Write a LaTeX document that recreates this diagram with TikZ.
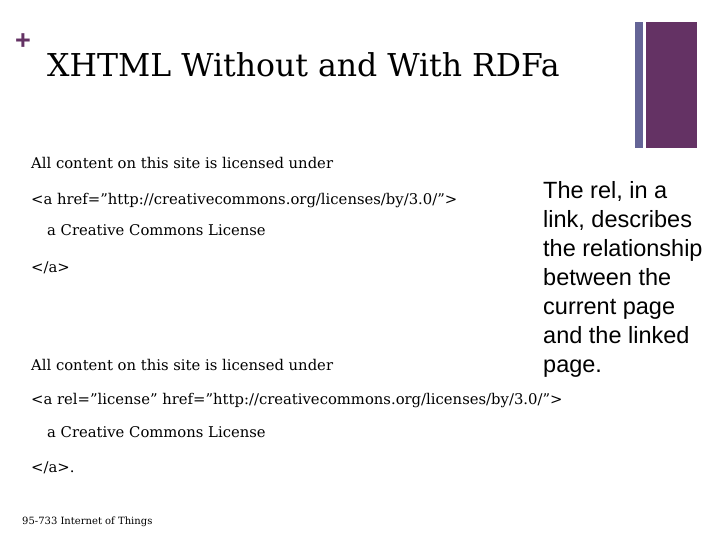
\documentclass[tikz,border=0pt]{standalone}
\usepackage{fontspec}
\setmainfont{DejaVu Serif}
\newfontfamily\arialf{Liberation Sans}
\begin{document}
\begin{tikzpicture}[x=1pt,y=-1pt,
  code/.style={anchor=base west,inner sep=0,font=\fontsize{14.8}{16}\selectfont},
  side/.style={anchor=north west,inner sep=0,align=left,font=\arialf\fontsize{23.5}{29}\selectfont}]
\useasboundingbox (0,0) rectangle (720,540);
\definecolor{plum}{RGB}{100,50,100}
\definecolor{slate}{RGB}{100,100,150}
\fill[slate] (635,22) rectangle (643,148);
\fill[plum] (646,22) rectangle (697,148);
\node[anchor=base,inner sep=0,text=plum,font=\arialf\bfseries\fontsize{27}{27}\selectfont] (plus) at (23,50) {+};
\node[anchor=base west,inner sep=0,font=\fontsize{31.5}{32}\selectfont] (title) at (47,77) {XHTML Without and With RDFa};
\node[code] (l1) at (31,169) {All content on this site is licensed under};
\node[code] (l2) at (31,205) {<a href=\symbol{34}http://creativecommons.org/licenses/by/3.0/\symbol{34}>};
\node[code] (l3) at (47,236) {a Creative Commons License};
\node[code] (l4) at (31,272) {</a>};
\node[code] (l5) at (31,370) {All content on this site is licensed under};
\node[code] (l6) at (31,404) {<a rel=\symbol{34}license\symbol{34} href=\symbol{34}http://creativecommons.org/licenses/by/3.0/\symbol{34}>};
\node[code] (l7) at (47,437) {a Creative Commons License};
\node[code] (l8) at (31,472) {</a>.};
\node[anchor=base west,inner sep=0,font=\fontsize{10}{11}\selectfont] (foot) at (22,524) {95-733 Internet of Things};
\node[side] (txt) at (543,181) {The rel, in a\\link, describes\\the relationship\\between the\\current page\\and the linked\\page.};
\end{tikzpicture}
\end{document}
